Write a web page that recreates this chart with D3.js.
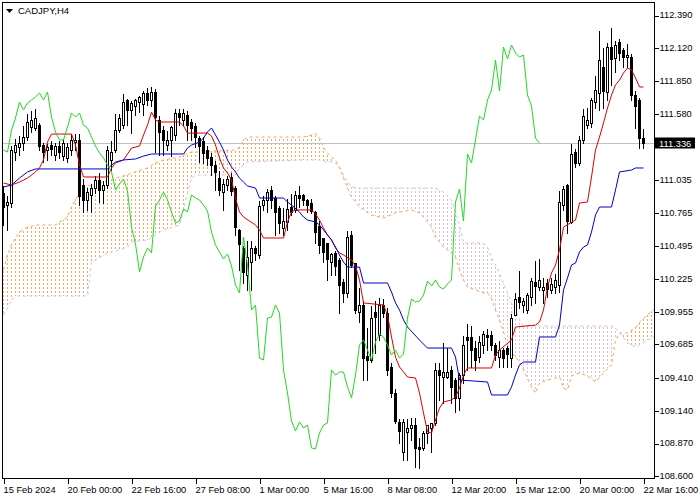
<!DOCTYPE html>
<html><head><meta charset="utf-8">
<script src="https://cdn.jsdelivr.net/npm/d3@7"></script>
<style>body{margin:0;background:#fff}svg{display:block}text{font-family:"Liberation Sans",Arial,sans-serif}</style>
</head><body><svg id="c" width="700" height="500"></svg>
<script>
const title = "CADJPY,H4";
const xTickBars = [0,16,32,48,64,80,96,112,128,144,160];
const xTickLabels = ["15 Feb 2024","20 Feb 00:00","22 Feb 16:00","27 Feb 08:00","1 Mar 00:00","5 Mar 16:00","8 Mar 08:00","12 Mar 20:00","15 Mar 12:00","20 Mar 00:00","22 Mar 16:00"];
const yTickValues = [112.390,112.120,111.850,111.580,111.035,110.765,110.495,110.225,109.955,109.685,109.410,109.140,108.870,108.600];
const lastPrice = 111.336;
const chikouShift = 26;

const open = [110.926,110.827,110.844,111.263,111.304,111.337,111.386,111.469,111.461,111.485,
111.321,111.280,111.321,111.238,111.312,111.230,111.214,111.280,111.345,111.362,
110.992,110.869,110.910,110.967,111.033,110.951,110.992,111.198,111.280,111.444,
111.485,111.691,111.609,111.641,111.674,111.658,111.748,111.691,111.757,111.527,
111.444,111.321,111.362,111.403,111.584,111.527,111.568,111.510,111.477,111.378,
111.354,111.280,111.222,111.156,111.049,110.934,110.992,111.058,110.967,110.622,
110.474,110.252,110.359,110.474,110.416,110.827,110.869,110.951,110.885,110.803,
110.638,110.688,110.811,110.787,110.910,110.910,110.869,110.844,110.770,110.655,
110.556,110.515,110.359,110.433,110.375,110.194,110.104,110.581,110.350,109.947,
110.005,109.586,109.553,109.947,109.759,110.005,109.939,109.495,109.281,109.043,
108.796,108.961,108.993,109.018,108.837,108.829,108.952,108.993,109.035,109.471,
109.413,109.413,109.471,109.388,109.240,109.429,109.742,109.742,109.651,109.577,
109.676,109.759,109.759,109.676,109.577,109.635,109.651,109.569,109.923,110.071,
110.005,109.964,110.071,110.194,110.153,110.129,110.186,110.129,110.153,110.170,
110.827,110.992,110.688,111.263,111.173,111.362,111.485,111.502,111.674,111.748,
111.962,111.757,112.127,112.036,112.168,112.102,112.044,112.044,111.732,111.691,
111.378];
const high = [110.992,110.910,111.321,111.378,111.403,111.485,111.584,111.609,111.625,111.510,
111.345,111.337,111.362,111.345,111.362,111.378,111.345,111.419,111.419,111.419,
111.049,110.975,111.008,111.074,111.099,111.033,111.321,111.362,111.584,111.584,
111.748,111.707,111.691,111.707,111.732,111.773,111.798,111.806,111.789,111.568,
111.485,111.444,111.485,111.625,111.625,111.625,111.609,111.543,111.510,111.403,
111.395,111.321,111.263,111.198,111.115,111.049,111.074,111.099,110.992,110.638,
110.499,110.540,110.540,110.499,110.869,110.910,110.967,110.992,110.910,110.827,
110.811,110.885,110.926,110.951,110.992,110.926,110.885,110.885,110.787,110.704,
110.564,110.523,110.441,110.458,110.400,110.227,110.622,110.622,110.359,110.153,
110.046,109.824,110.005,110.046,110.071,110.063,109.989,109.536,109.322,109.076,
109.076,109.076,109.084,109.084,108.920,108.977,109.018,109.043,109.536,109.536,
109.701,109.660,109.512,109.413,109.454,109.759,109.857,109.840,109.717,109.759,
109.800,109.816,109.800,109.701,109.717,109.660,109.676,109.939,110.112,110.293,
110.071,110.112,110.235,110.375,110.392,110.235,110.227,110.235,110.268,110.951,
110.992,111.008,111.337,111.296,111.403,111.625,111.633,111.716,111.897,112.266,
112.127,112.168,112.291,112.184,112.201,112.127,112.160,112.077,111.773,111.716,
111.461];
const low = [110.663,110.622,110.811,111.198,111.238,111.280,111.362,111.428,111.444,111.280,
111.181,111.198,111.238,111.198,111.214,111.198,111.181,111.238,111.280,110.827,
110.770,110.787,110.770,110.926,110.852,110.844,110.967,111.115,111.263,111.428,
111.461,111.485,111.419,111.568,111.592,111.568,111.650,111.641,111.263,111.238,
111.238,111.280,111.230,111.362,111.485,111.485,111.362,111.362,111.304,111.181,
111.173,111.156,111.074,110.951,110.910,110.787,110.951,110.910,110.581,110.293,
110.186,110.129,110.129,110.375,110.392,110.787,110.770,110.803,110.581,110.597,
110.581,110.622,110.745,110.770,110.811,110.827,110.770,110.762,110.515,110.433,
110.359,110.211,110.252,110.252,109.939,110.030,110.071,110.317,109.939,109.865,
109.388,109.388,109.536,109.610,109.717,109.906,109.429,109.248,109.035,108.870,
108.730,108.730,108.895,108.673,108.664,108.813,108.870,108.796,109.018,109.224,
109.199,109.405,109.199,109.125,109.142,109.364,109.471,109.495,109.471,109.536,
109.610,109.635,109.635,109.553,109.495,109.495,109.495,109.495,109.923,109.980,
109.947,109.939,110.005,110.022,110.129,110.022,110.071,110.104,110.104,110.112,
110.787,110.597,110.679,111.140,111.156,111.337,111.461,111.469,111.625,111.609,
111.625,111.691,111.814,111.921,112.020,111.962,111.962,111.691,111.461,111.296,
111.296];
const close = [110.811,110.852,111.280,111.321,111.337,111.386,111.510,111.527,111.543,111.312,
111.263,111.304,111.288,111.312,111.263,111.337,111.304,111.362,111.362,110.901,
110.869,110.934,110.967,111.033,110.951,110.992,111.280,111.263,111.444,111.543,
111.674,111.609,111.666,111.691,111.716,111.748,111.691,111.757,111.551,111.428,
111.362,111.362,111.469,111.584,111.551,111.584,111.485,111.461,111.386,111.312,
111.255,111.214,111.156,111.099,110.951,111.000,111.041,110.942,110.646,110.507,
110.276,110.400,110.474,110.433,110.819,110.869,110.934,110.869,110.770,110.679,
110.696,110.795,110.770,110.910,110.885,110.869,110.827,110.778,110.605,110.499,
110.441,110.383,110.425,110.326,110.170,110.104,110.564,110.334,109.964,110.005,
109.569,109.553,109.898,109.906,110.005,109.939,109.471,109.281,109.051,108.969,
109.043,108.993,109.018,108.829,108.821,108.952,109.018,109.035,109.471,109.429,
109.454,109.454,109.331,109.240,109.429,109.676,109.717,109.635,109.553,109.701,
109.767,109.742,109.676,109.594,109.635,109.569,109.602,109.898,110.054,110.030,
110.038,110.087,110.202,110.161,110.211,110.153,110.137,110.178,110.211,110.852,
110.959,110.696,111.247,111.173,111.362,111.559,111.527,111.691,111.773,112.020,
111.765,112.127,112.028,112.143,112.077,112.044,112.061,111.732,111.641,111.378,
111.336];

const tenkanBar = [0,2,4,6,8,9,10,11,12,17,18,19,20,26,27,28,30,32,34,35,36,37,38,39,44,45,46,51,52,53,54,55,56,57,58,59,60,63,64,65,70,71,72,73,77,78,79,80,81,82,83,84,85,87,88,89,90,95,96,97,98,99,101,103,104,105,106,107,108,109,110,112,113,114,115,116,122,123,124,127,128,133,134,135,136,137,138,139,140,143,144,146,147,148,149,150,151,152,153,154,155,156,157,158,159,160];
const tenkanVal = [111.008,110.992,111.016,111.049,111.099,111.132,111.198,111.345,111.411,111.411,111.321,111.156,111.058,111.058,111.132,111.173,111.198,111.296,111.312,111.403,111.485,111.592,111.527,111.510,111.510,111.477,111.419,111.419,111.395,111.321,111.214,111.132,111.091,111.033,110.885,110.770,110.729,110.663,110.622,110.556,110.556,110.688,110.770,110.787,110.787,110.754,110.704,110.638,110.581,110.540,110.474,110.433,110.416,110.375,110.326,110.211,110.022,110.005,109.923,109.742,109.577,109.495,109.413,109.405,109.281,109.117,108.961,108.952,109.059,109.158,109.207,109.224,109.248,109.322,109.429,109.487,109.487,109.594,109.635,109.717,109.824,109.840,109.865,109.964,110.153,110.268,110.334,110.458,110.646,110.704,110.844,110.852,111.058,111.280,111.386,111.502,111.625,111.732,111.814,111.855,111.913,111.954,111.938,111.872,111.798,111.798];

const kijunBar = [0,2,4,6,8,26,27,28,30,33,35,37,45,46,47,49,50,51,52,53,54,55,56,57,58,59,60,61,63,64,70,71,72,74,75,76,78,79,80,81,82,83,84,85,86,89,90,96,97,98,99,100,101,104,106,112,113,114,121,122,126,127,128,129,130,133,134,138,139,140,141,142,143,144,145,146,147,148,149,152,153,154,157,158,160];
const kijunVal = [110.975,110.992,111.049,111.099,111.124,111.124,111.156,111.181,111.198,111.206,111.230,111.247,111.247,111.296,111.321,111.345,111.378,111.428,111.461,111.403,111.345,111.280,111.198,111.140,111.099,111.049,111.016,110.984,110.967,110.885,110.885,110.852,110.827,110.770,110.729,110.704,110.688,110.663,110.622,110.581,110.540,110.482,110.416,110.359,110.317,110.317,110.186,110.186,110.112,110.022,109.964,109.882,109.824,109.717,109.651,109.651,109.577,109.388,109.372,109.265,109.265,109.331,109.429,109.512,109.536,109.536,109.742,109.742,109.840,110.129,110.227,110.334,110.350,110.441,110.482,110.499,110.605,110.745,110.811,110.811,110.951,111.099,111.115,111.132,111.132];

const cloudBar = [0,1,2,3,4,6,8,13,14,15,16,17,18,19,20,21,22,24,26,29,31,32,36,38,40,44,45,46,47,48,58,59,60,61,75,77,78,79,80,81,82,83,84,85,86,87,89,92,95,98,102,104,105,107,108,110,112,113,114,115,116,120,121,122,123,124,125,126,127,128,129,130,132,133,134,136,139,140,141,142,144,146,148,150,152,153,154,156,158,159,161,163];
const senkouA = [110.293,110.416,110.499,110.556,110.605,110.646,110.663,110.663,110.688,110.704,
110.729,110.811,110.869,110.926,110.975,110.984,110.992,111.008,111.025,111.058,
111.074,111.090,111.132,111.173,111.198,111.222,111.238,111.255,111.263,111.263,
111.280,111.304,111.362,111.386,111.386,111.403,111.419,111.378,111.304,111.255,
111.222,111.198,111.140,111.049,110.967,110.893,110.811,110.745,110.720,110.762,
110.787,110.762,110.729,110.646,110.564,110.482,110.433,110.400,110.293,110.211,
110.153,110.104,110.104,110.063,109.964,109.882,109.783,109.676,109.618,109.577,
109.536,109.471,109.331,109.281,109.364,109.388,109.413,109.322,109.306,109.421,
109.446,109.421,109.372,109.446,109.512,109.717,109.775,109.775,109.816,109.865,
109.923,109.980];
const senkouB = [109.923,109.980,110.046,110.079,110.079,110.079,110.079,110.079,110.079,110.079,
110.079,110.079,110.079,110.079,110.079,110.079,110.359,110.392,110.433,110.458,
110.482,110.523,110.540,110.581,110.622,110.663,110.787,110.926,111.049,111.074,
111.074,111.132,111.156,111.181,111.198,111.198,111.198,111.198,111.189,111.181,
111.181,111.173,111.132,111.074,111.016,110.975,110.967,110.967,110.967,110.967,
110.967,110.967,110.967,110.967,110.967,110.934,110.869,110.770,110.663,110.515,
110.515,110.515,110.482,110.392,110.334,110.268,110.186,110.104,110.022,109.964,
109.882,109.832,109.832,109.832,109.832,109.832,109.832,109.832,109.832,109.832,
109.832,109.832,109.832,109.832,109.832,109.816,109.775,109.693,109.660,109.676,
109.717,109.750];

const C = {tenkan:"#dc0000", kijun:"#0000c8", chikou:"#22d822", spanA:"#F4A460", spanB:"#D8BFD8", bid:"#c0c0c0"};

const svg = d3.select("#c");
svg.append("rect").attr("width",700).attr("height",500).attr("fill","#fff");
const x = d3.scaleLinear().domain([0,160]).range([3,643]);
const y = d3.scaleLinear().domain([108.574,112.497]).range([479,2]);
const px = v => Math.round(x(v)) + 0.5;
const py = v => Math.round(y(v)) + 0.5;

const defs = svg.append("defs");
defs.append("clipPath").attr("id","clip").append("rect").attr("x",3).attr("y",3).attr("width",651).attr("height",475);
// cloud shapes (span A above -> sandy brown, span B above -> thistle)
const clipA = defs.append("clipPath").attr("id","cA");
const clipB = defs.append("clipPath").attr("id","cB");
for (let j=0;j<cloudBar.length-1;j++){
  const up = senkouA[j]+senkouA[j+1] >= senkouB[j]+senkouB[j+1];
  const pts = [[x(cloudBar[j]),y(senkouA[j])],[x(cloudBar[j+1]),y(senkouA[j+1])],
               [x(cloudBar[j+1]),y(senkouB[j+1])],[x(cloudBar[j]),y(senkouB[j])]];
  (up?clipA:clipB).append("polygon").attr("points",pts.map(p=>p.join(",")).join(" "));
}

const g = svg.append("g").attr("clip-path","url(#clip)");

// cloud hatch: one dotted vertical line per bar, clipped to the cloud shape
const bars = d3.range(0, 164);
[["cA",C.spanA],["cB",C.spanB]].forEach(([id,col])=>{
  const hg = g.append("g").attr("clip-path",`url(#${id})`).attr("shape-rendering","crispEdges");
  hg.selectAll("line").data(bars).join("line")
    .attr("x1",d=>px(d)).attr("x2",d=>px(d)).attr("y1",3).attr("y2",479)
    .attr("stroke",col).attr("stroke-dasharray","2,2");
});
const ln = d3.line().x(d=>x(d[0])+0.5).y(d=>y(d[1]));
g.append("path").datum(cloudBar.map((b,j)=>[b,senkouA[j]])).attr("d",ln)
  .attr("fill","none").attr("stroke",C.spanA).attr("stroke-dasharray","3,3");
g.append("path").datum(cloudBar.map((b,j)=>[b,senkouB[j]])).attr("d",ln)
  .attr("fill","none").attr("stroke",C.spanB).attr("stroke-dasharray","3,3");

// bid line
g.append("line").attr("x1",3).attr("x2",654).attr("y1",py(lastPrice)).attr("y2",py(lastPrice))
  .attr("stroke",C.bid).attr("shape-rendering","crispEdges");

// candles
const cg = g.append("g").attr("shape-rendering","crispEdges");
open.forEach((o,i)=>{
  const cx = px(i);
  cg.append("line").attr("x1",cx).attr("x2",cx).attr("y1",py(high[i])).attr("y2",py(low[i])).attr("stroke","#000");
  const yo = Math.round(y(o)), yc = Math.round(y(close[i]));
  const bull = close[i] >= o;
  cg.append("rect").attr("x",cx-1).attr("y",Math.min(yo,yc)+0.5).attr("width",2)
    .attr("height",Math.abs(yo-yc)).attr("fill",bull?"#fff":"#000").attr("stroke","#000");
});

// lines
g.append("path").datum(tenkanBar.map((b,j)=>[b,tenkanVal[j]])).attr("d",ln)
  .attr("fill","none").attr("stroke",C.tenkan);
g.append("path").datum(kijunBar.map((b,j)=>[b,kijunVal[j]])).attr("d",ln)
  .attr("fill","none").attr("stroke",C.kijun);
const chikou = d3.range(0, close.length - chikouShift).map(i=>[i, close[i+chikouShift]]);
g.append("path").datum(chikou).attr("d",ln).attr("fill","none").attr("stroke",C.chikou);

// frame
svg.append("rect").attr("x",2.5).attr("y",2.5).attr("width",652).attr("height",476)
  .attr("fill","none").attr("stroke","#000").attr("shape-rendering","crispEdges");

// y axis
const ya = svg.append("g").attr("transform","translate(654.5,0)")
  .call(d3.axisRight(y).tickValues(yTickValues).tickFormat(d3.format(".3f")).tickSize(4).tickPadding(1));
ya.select(".domain").remove();
ya.selectAll("line").attr("stroke","#000").attr("transform","translate(0,0.5)").attr("shape-rendering","crispEdges");
ya.selectAll("text").attr("font-size","9.3px").attr("fill","#000").attr("font-family","Liberation Sans, Arial, sans-serif");

// x axis
const xa = svg.append("g").attr("transform","translate(0,478.5)")
  .call(d3.axisBottom(x).tickValues(xTickBars).tickFormat((d,i)=>xTickLabels[i]).tickSize(5).tickPadding(3));
xa.select(".domain").remove();
xa.selectAll("line").attr("stroke","#000").attr("transform","translate(0.5,0)").attr("shape-rendering","crispEdges");
xa.selectAll("text").attr("text-anchor","start").attr("font-size","9.3px").attr("fill","#000").attr("font-family","Liberation Sans, Arial, sans-serif");

// last price label
const ly = Math.round(y(lastPrice));
svg.append("rect").attr("x",655).attr("y",ly-5.5).attr("width",40).attr("height",11).attr("fill","#000");
svg.append("text").attr("x",659).attr("y",ly+3.5).attr("font-size","9.3px").attr("fill","#fff").text(d3.format(".3f")(lastPrice));

// title
svg.append("path").attr("d","M6,9 L13,9 L9.5,13 Z").attr("fill","#000");
svg.append("text").attr("x",18).attr("y",14).attr("font-size","9.5px").attr("fill","#000").text(title);
</script>
</body></html>
